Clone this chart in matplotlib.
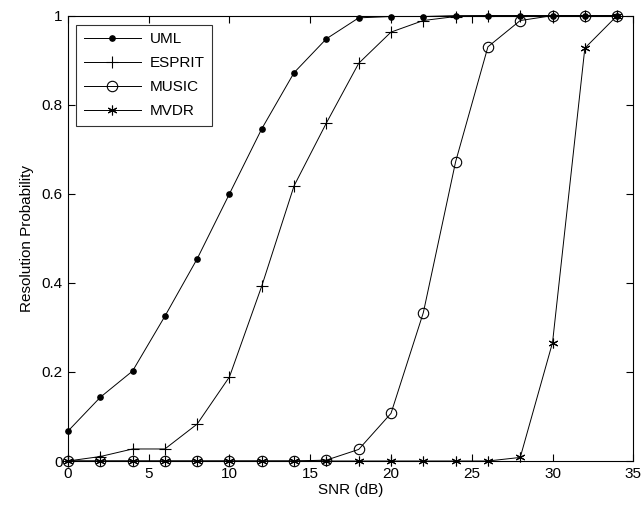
import matplotlib
matplotlib.use("Agg")
import matplotlib.pyplot as plt

plt.rcParams['font.family'] = ['Liberation Sans', 'DejaVu Sans']

snr = [0, 2, 4, 6, 8, 10, 12, 14, 16, 18, 20, 22, 24, 26, 28, 30, 32, 34]
uml = [0.067, 0.143, 0.202, 0.325, 0.454, 0.600, 0.746, 0.872, 0.948, 0.995, 0.998, 0.998, 1.0, 1.0, 1.0, 1.0, 1.0, 1.0]
esprit = [0.0, 0.010, 0.027, 0.027, 0.083, 0.189, 0.393, 0.618, 0.759, 0.893, 0.963, 0.989, 0.998, 1.0, 1.0, 1.0, 1.0, 1.0]
music = [0.0, 0.0, 0.0, 0.0, 0.0, 0.0, 0.0, 0.0, 0.002, 0.026, 0.107, 0.333, 0.672, 0.930, 0.989, 1.0, 1.0, 1.0]
mvdr = [0.0, 0.0, 0.0, 0.0, 0.0, 0.0, 0.0, 0.0, 0.0, 0.0, 0.0, 0.0, 0.0, 0.0, 0.008, 0.266, 0.927, 1.0]

fig = plt.figure(figsize=(6.41, 5.09), dpi=100)
ax = fig.add_axes([0.106, 0.0943, 0.882, 0.875])

lw = 0.7
ax.plot(snr, uml, color='k', lw=lw, marker='o', markersize=3.8, markerfacecolor='k', label='UML', clip_on=False, zorder=5)
ax.plot(snr, esprit, color='k', lw=lw, marker='+', markersize=9, markeredgewidth=0.8, label='ESPRIT', clip_on=False, zorder=4)
ax.plot(snr, music, color='k', lw=lw, marker='o', markersize=7.5, markerfacecolor='none', markeredgewidth=0.8, label='MUSIC', clip_on=False, zorder=3)
ax.plot(snr, mvdr, color='k', lw=lw, marker=(6, 2, 0), markersize=7, markeredgewidth=0.8, label='MVDR', clip_on=False, zorder=3)

ax.set_xlim(0, 35)
ax.set_ylim(0, 1)
ax.set_xticks([0, 5, 10, 15, 20, 25, 30, 35])
ax.set_xticklabels(['0', '5', '10', '15', '20', '25', '30', '35'])
ax.set_yticks([0, 0.2, 0.4, 0.6, 0.8, 1.0])
ax.set_yticklabels(['0', '0.2', '0.4', '0.6', '0.8', '1'])
ax.tick_params(direction='in', top=True, right=True, labelsize=11, length=5, width=0.8, pad=4)
for s in ax.spines.values():
    s.set_linewidth(0.8)

ax.set_xlabel('SNR (dB)', fontsize=11, labelpad=2)
ax.set_ylabel('Resolution Probability', fontsize=11, labelpad=5)

leg = ax.legend(loc='upper left', bbox_to_anchor=(0.015, 0.98), fontsize=11, frameon=True, fancybox=False,
                edgecolor='k', handlelength=3.7, labelspacing=0.65, borderpad=0.5, handletextpad=0.6,
                borderaxespad=0.0)
leg.get_frame().set_linewidth(0.8)

fig.savefig('out.png', dpi=100)
